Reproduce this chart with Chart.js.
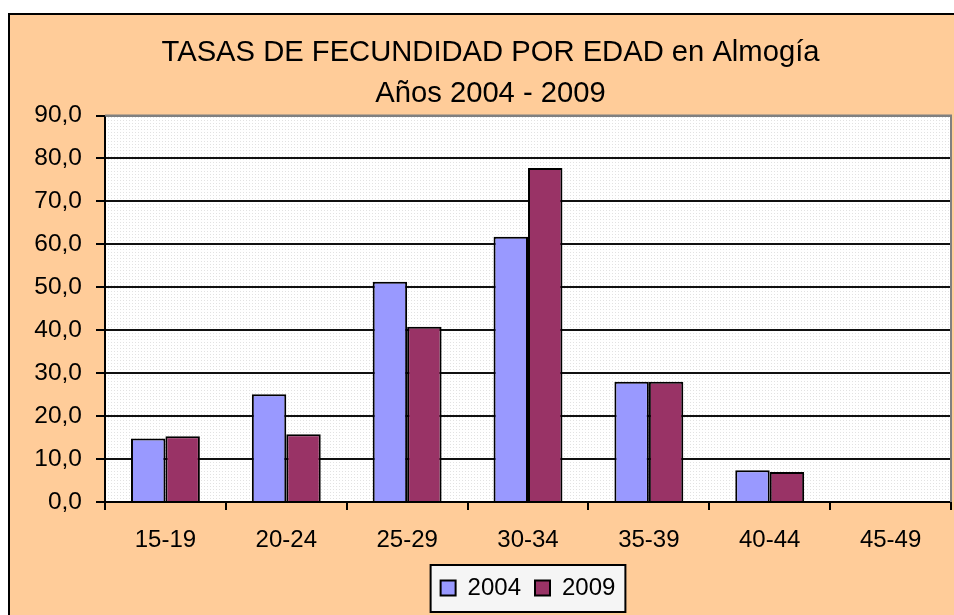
<!DOCTYPE html>
<html>
<head>
<meta charset="utf-8">
<script src="https://cdn.jsdelivr.net/npm/chart.js@4.4.1/dist/chart.umd.min.js"></script>
<style>
  html, body { margin: 0; padding: 0; background: #fff; }
  body { width: 954px; height: 615px; overflow: hidden; position: relative; }
  #frame {
    position: absolute; left: 8px; top: 13px; width: 980px; height: 620px;
    background: #FFCC99; border: 2px solid #000; box-sizing: border-box;
  }
  #wrap { position: absolute; left: 0; top: 0; width: 954px; height: 615px; }
</style>
</head>
<body>
<div id="frame"></div>
<div id="wrap"><canvas id="c" width="954" height="615"></canvas></div>
<script>
// Tasas de fecundidad por edad, Almogía 2004 / 2009
const categorias = ['15-19', '20-24', '25-29', '30-34', '35-39', '40-44', '45-49'];
const tasas2004 = [14.8, 25.1, 51.3, 61.8, 28.0, 7.4, 0];
const tasas2009 = [15.3, 15.8, 40.8, 77.8, 28.0, 7.0, 0];
const titulo = ['TASAS DE FECUNDIDAD POR EDAD en Almogía', 'Años 2004 - 2009'];

const FONT = 'Arial, "Liberation Sans", sans-serif';

// fondo punteado del área de trazado
const makePattern = () => {
  const p = document.createElement('canvas');
  p.width = 3; p.height = 3;
  const g = p.getContext('2d');
  g.fillStyle = '#ffffff';
  g.fillRect(0, 0, 3, 3);
  g.fillStyle = '#e2e2e2';
  g.fillRect(0, 0, 1, 1);
  return g.createPattern(p, 'repeat');
};

const plotBg = {
  id: 'plotBg',
  afterUpdate(chart) {
    // el marco original es más ancho que la ventana: el título queda algo a la derecha
    const tb = chart.titleBlock;
    if (tb) { tb.left += 15; tb.right += 15; }
    // la leyenda va centrada sobre el área de trazado
    const lg = chart.legend;
    const a = chart.chartArea;
    if (!lg || !a) return;
    const shift = (a.left + a.right) / 2 - (lg.left + lg.right) / 2;
    lg.left += shift;
    lg.right += shift;
    (lg.legendHitBoxes || []).forEach(h => { h.left += shift; });
  },
  beforeDraw(chart) {
    const { ctx, chartArea: a } = chart;
    ctx.save();
    ctx.fillStyle = makePattern();
    ctx.fillRect(a.left, a.top, a.right - a.left, a.bottom - a.top);
    ctx.restore();
    // caja de la leyenda
    const hb = chart.legend && chart.legend.legendHitBoxes;
    if (hb && hb.length) {
      const l = Math.min(...hb.map(h => h.left)) - 10;
      const r = Math.max(...hb.map(h => h.left + h.width)) + 10;
      const t = hb[0].top - 11;
      const b = hb[0].top + hb[0].height + 12;
      ctx.save();
      ctx.fillStyle = '#F5F5F5';
      ctx.fillRect(l, t, r - l, b - t);
      ctx.strokeStyle = '#000';
      ctx.lineWidth = 2;
      ctx.strokeRect(l, t, r - l, b - t);
      ctx.restore();
    }
  },
  afterDraw(chart) {
    const { ctx, chartArea: a } = chart;
    ctx.save();
    ctx.strokeStyle = '#808080';
    ctx.lineWidth = 2;
    ctx.beginPath();
    ctx.moveTo(a.left, a.top);
    ctx.lineTo(a.right, a.top);
    ctx.lineTo(a.right, a.bottom);
    ctx.stroke();
    ctx.restore();
  },
};

new Chart(document.getElementById('c'), {
  type: 'bar',
  data: {
    labels: categorias,
    datasets: [
      { label: '2004', data: tasas2004, backgroundColor: '#9999FF', borderColor: '#000', borderWidth: 2 },
      { label: '2009', data: tasas2009, backgroundColor: '#993366', borderColor: '#000', borderWidth: 2 },
    ],
  },
  options: {
    responsive: false,
    animation: false,
    layout: { padding: { left: 0, right: 3, top: 0, bottom: 5 } },
    datasets: { bar: { categoryPercentage: 0.57, barPercentage: 1 } },
    scales: {
      x: {
        grid: { drawOnChartArea: false, drawTicks: true, tickLength: 8, color: '#000', lineWidth: 2, offset: true },
        border: { color: '#000', width: 2 },
        ticks: { color: '#000', font: { family: FONT, size: 24 }, padding: 16, maxRotation: 0 },
        afterFit: (s) => { s.height = 60; },
      },
      y: {
        min: 0, max: 90,
        grid: {
          color: (c) => c.tick && c.tick.value === 90 ? '#808080' : '#111',
          tickColor: '#000',
          lineWidth: 2,
          tickLength: 9,
        },
        border: { color: '#000', width: 2 },
        ticks: {
          stepSize: 10,
          color: '#000',
          font: { family: FONT, size: 24.5 },
          padding: 14,
          callback: (v) => v.toFixed(1).replace('.', ','),
        },
        afterFit: (s) => { s.width = 105; },
      },
    },
    plugins: {
      title: {
        display: true,
        text: titulo,
        color: '#000',
        font: { family: FONT, size: 29.2, weight: 'normal', lineHeight: 1.4 },
        padding: { top: 33, bottom: 0.8 },
      },
      legend: {
        position: 'bottom',
        labels: {
          color: '#000',
          font: { family: FONT, size: 24 },
          boxWidth: 15,
          boxHeight: 15,
          padding: 14,
        },
      },
      tooltip: { enabled: false },
    },
  },
  plugins: [plotBg],
});
</script>
</body>
</html>
